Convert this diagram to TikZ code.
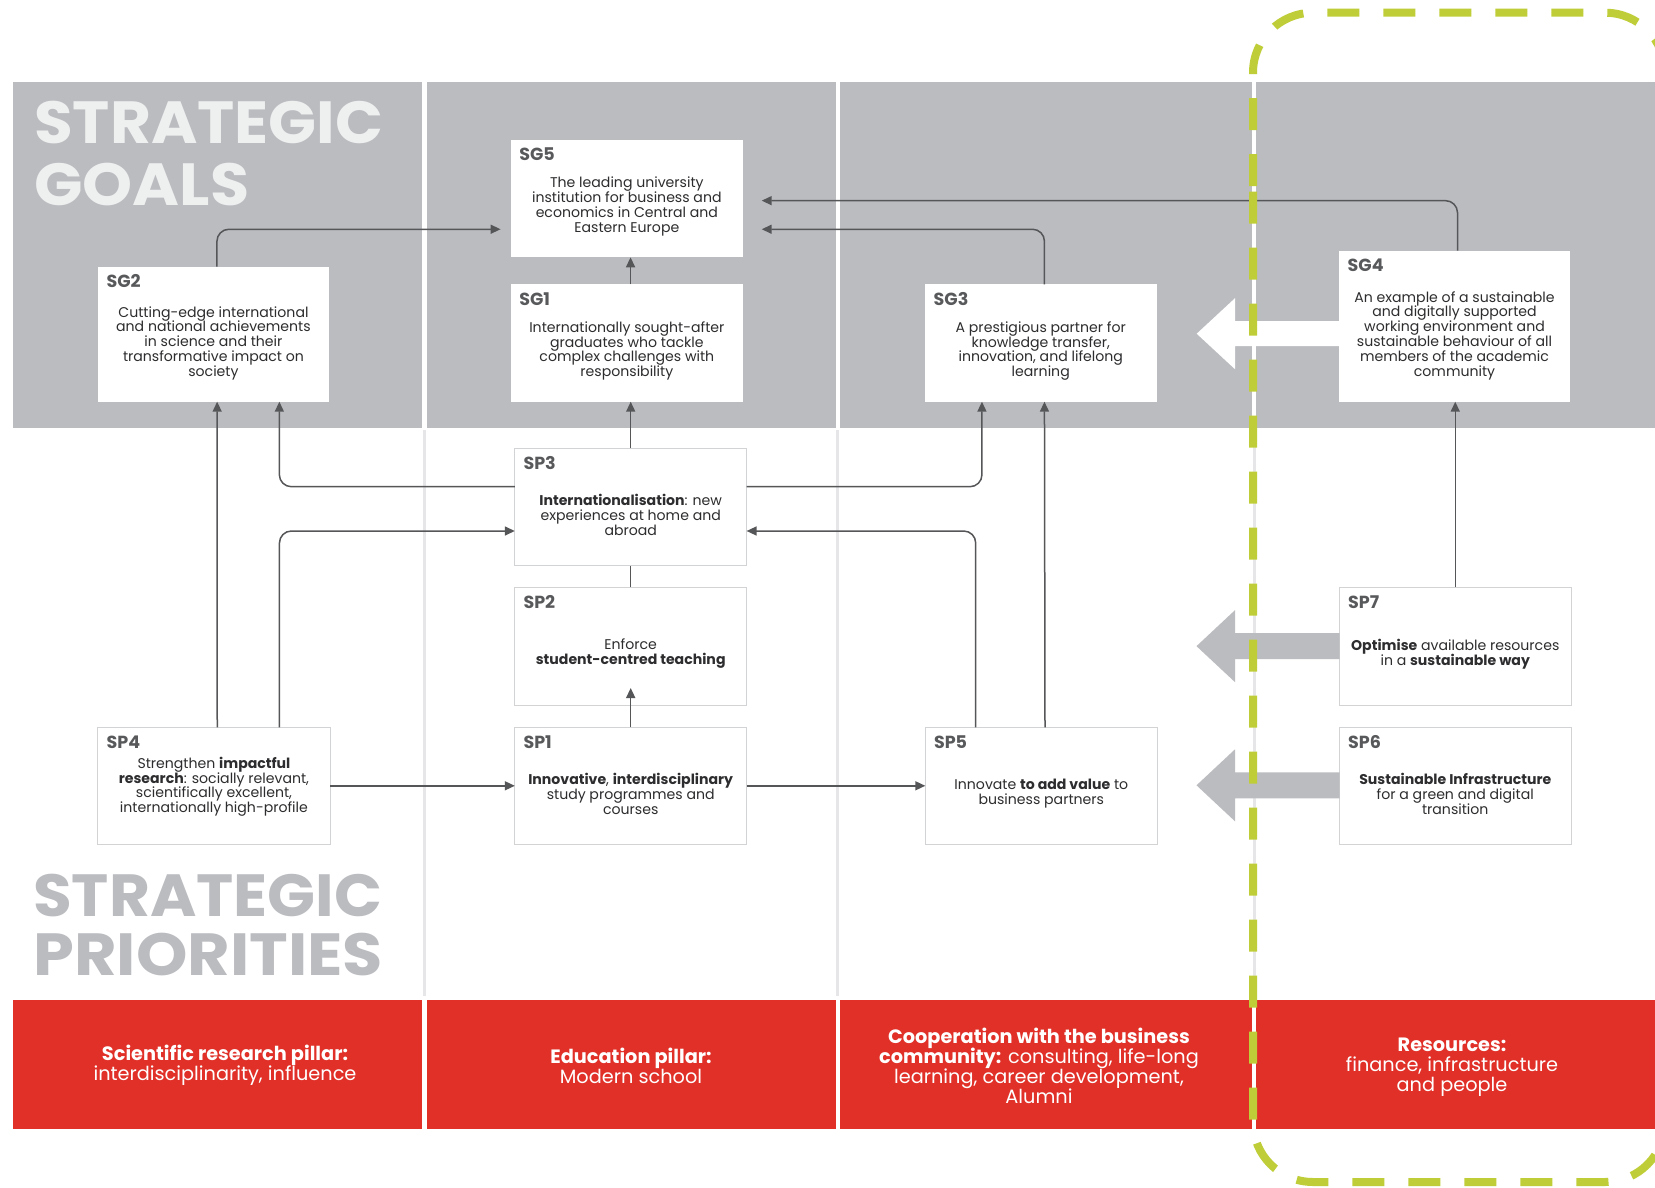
\documentclass[tikz,border=0pt]{standalone}
\usepackage{fontspec}
\usepackage{graphicx}
\setmainfont{Poppins}
\usetikzlibrary{arrows.meta,calc}
\setlength{\lineskiplimit}{-6pt}
\definecolor{bandgray}{RGB}{187,188,192}
\definecolor{headlight}{RGB}{238,239,239}
\definecolor{redband}{RGB}{224,48,40}
\definecolor{limeg}{RGB}{191,206,56}
\definecolor{linegray}{RGB}{85,86,88}
\definecolor{labelgray}{RGB}{88,89,91}
\definecolor{textdark}{RGB}{45,45,47}
\definecolor{sepgray}{RGB}{230,230,232}
\definecolor{boxborder}{RGB}{210,211,213}
\begin{document}
\begin{tikzpicture}[x=1pt,y=-1pt,
  conn/.style={draw=linegray, line width=1.5pt, -{Triangle[length=10pt,width=9pt]}},
  plainconn/.style={draw=linegray, line width=1.5pt},
  goalbox/.style={fill=white, inner sep=0pt, outer sep=0pt, anchor=north west, minimum width=232.5pt, minimum height=117.3pt},
  priobox/.style={goalbox, draw=boxborder, line width=1pt},
  lbl/.style={anchor=west, inner sep=0pt, text=labelgray, font=\bfseries\fontsize{17.5}{18}\selectfont},
  body/.style={align=center, inner sep=0pt, text=textdark, font=\fontsize{14.1}{14.8}\selectfont},
  redtext/.style={align=center, inner sep=0pt, text=white, font=\fontsize{19.3}{20}\selectfont},
  bigtitle/.style={anchor=base west, inner sep=0pt, font=\bfseries\fontsize{59.5}{60}\selectfont}
]
\useasboundingbox (0,0) rectangle (1655,1188);
\clip (0,0) rectangle (1655,1188);
\fill[white] (0,0) rectangle (1655,1188);

% grey band of goals
\fill[bandgray] (12.7,82) rectangle (421.7,427.5);
\fill[bandgray] (426.5,82) rectangle (835.5,427.5);
\fill[bandgray] (839.5,82) rectangle (1252,427.5);
\fill[bandgray] (1256,82) rectangle (1655,427.5);

% light column separators
\fill[sepgray] (422.5,430) rectangle (425.5,996);
\fill[sepgray] (836,430) rectangle (839,996);
\fill[sepgray] (1252.5,430) rectangle (1255.5,996);

% red band of pillars
\fill[redband] (12.7,1000) rectangle (421.7,1128.7);
\fill[redband] (426.5,1000) rectangle (835.5,1128.7);
\fill[redband] (839.5,1000) rectangle (1252,1128.7);
\fill[redband] (1256,1000) rectangle (1655,1128.7);

% titles
\node[bigtitle, text=headlight] (tg1) at (34,143.3) {\scalebox{1.058}[1]{STRATEGIC}};
\node[bigtitle, text=headlight] (tg2) at (34,205) {\scalebox{1.07}[1]{GOALS}};
\node[bigtitle, text=bandgray] (tp1) at (33,916) {\scalebox{1.058}[1]{STRATEGIC}};
\node[bigtitle, text=bandgray] (tp2) at (33,975) {\scalebox{1.1}[1]{PRIORITIES}};

% goal boxes
\node[goalbox] (SG5) at (510.6,140) {};
\node[goalbox, minimum height=117.4pt] (SG1) at (510.6,284.3) {};
\node[goalbox, minimum width=231.1pt, minimum height=135pt] (SG2) at (97.9,266.7) {};
\node[goalbox, minimum width=231.5pt, minimum height=117.4pt] (SG3) at (925,284.3) {};
\node[goalbox, minimum width=231pt, minimum height=151pt] (SG4) at (1339,250.7) {};

% priority boxes
\node[priobox, minimum width=231.8pt, minimum height=117.4pt] (SP3) at (514.8,448.3) {};
\node[priobox, minimum width=231.8pt, minimum height=117.7pt] (SP2) at (514.8,587.3) {};
\node[priobox, minimum width=232.1pt, minimum height=117pt] (SP4) at (97.9,727.3) {};
\node[priobox, minimum width=231.8pt, minimum height=117pt] (SP1) at (514.8,727.3) {};
\node[priobox, minimum width=232pt, minimum height=117pt] (SP5) at (925.3,727.3) {};
\node[priobox, minimum width=231.5pt, minimum height=117.7pt] (SP7) at (1339.5,587.3) {};
\node[priobox, minimum width=231.5pt, minimum height=117pt] (SP6) at (1339.5,727.3) {};

% labels
\foreach \b in {SG5,SG1,SG2,SG3,SG4,SP3,SP2,SP4,SP1,SP5,SP7,SP6}{
  \node[lbl] (\b l) at ($(\b.north west)+(8.5,14.5)$) {\b};
}

% body texts
\node[body] (SG5t) at ($(SG5.center)+(0,8)$) {The leading university\\institution for business and\\economics in Central and\\Eastern Europe};
\node[body] (SG2t) at ($(SG2.center)+(0,9)$) {Cutting-edge international\\and national achievements\\in science and their\\transformative impact on\\society};
\node[body] (SG1t) at ($(SG1.center)+(0,8)$) {Internationally sought-after\\graduates who tackle\\complex challenges with\\responsibility};
\node[body] (SG3t) at ($(SG3.center)+(0,8)$) {A prestigious partner for\\knowledge transfer,\\innovation, and lifelong\\learning};
\node[body] (SG4t) at ($(SG4.center)+(0,9.4)$) {An example of a sustainable\\and digitally supported\\working environment and\\sustainable behaviour of all\\members of the academic\\community};
\node[body] (SP3t) at ($(SP3.center)+(0,8)$) {\textbf{Internationalisation}: new\\experiences at home and\\abroad};
\node[body] (SP2t) at ($(SP2.center)+(0,7.5)$) {Enforce\\\textbf{student-centred teaching}};
\node[body] (SP4t) at ($(SP4.center)+(0,1)$) {Strengthen \textbf{impactful}\\\textbf{research}: socially relevant,\\scientifically excellent,\\internationally high-profile};
\node[body] (SP1t) at ($(SP1.center)+(0,8)$) {\textbf{Innovative}, \textbf{interdisciplinary}\\study programmes and\\courses};
\node[body] (SP5t) at ($(SP5.center)+(0,8)$) {Innovate \textbf{to add value} to\\business partners};
\node[body] (SP7t) at ($(SP7.center)+(0,8)$) {\textbf{Optimise} available resources\\in a \textbf{sustainable way}};
\node[body] (SP6t) at ($(SP6.center)+(0,8)$) {\textbf{Sustainable Infrastructure}\\for a green and digital\\transition};

% red pillar texts
\node[redtext] (R1) at (225,1065.5) {\textbf{Scientific research pillar:}\\interdisciplinarity, influence};
\node[redtext] (R2) at (631,1065.5) {\textbf{Education pillar:}\\Modern school};
\node[redtext] (R3) at (1039,1065.4) {\textbf{Cooperation with the business}\\\textbf{community:} consulting, life-long\\learning, career development,\\Alumni};
\node[redtext] (R4) at (1452,1067.5) {\textbf{Resources:}\\finance, infrastructure\\and people};

% connectors
\draw[conn, rounded corners=12pt] ($(SG2.north)+(3.5,0)$) |- ($(SG5.west)+(-10,30.6)$);
\draw[conn, rounded corners=12pt] ($(SG3.north)+(3.7,0)$) |- ($(SG5.east)+(18.6,30.6)$);
\draw[conn, rounded corners=12pt] ($(SG4.north)+(3,0)$) |- ($(SG5.east)+(18.6,2)$);
\draw[conn] ($(SG1.north)+(3.7,0)$) -- ($(SG5.south)+(3.7,0)$);
\draw[conn] (SP3.north) -- (SP3.north |- SG1.south);
\draw[conn, rounded corners=12pt] ($(SP3.west)+(0,-20.3)$) -| ($(SG2.south)+(65.9,0)$);
\draw[conn, rounded corners=12pt] ($(SP3.east)+(0,-20.3)$) -| ($(SG3.south)+(-58.8,0)$);
\draw[conn, rounded corners=12pt] ($(SP4.north)+(65.5,0)$) |- ($(SP3.west)+(0,24)$);
\draw[conn] ($(SP4.north)+(3.3,0)$) -- ($(SG2.south)+(3.7,0)$);
\draw[conn, rounded corners=12pt] ($(SP5.north)+(-65.6,0)$) |- ($(SP3.east)+(0,24)$);
\draw[conn] ($(SP5.north)+(3.7,0)$) -- ($(SG3.south)+(3.7,0)$);
\draw[plainconn] (SP2.north) -- (SP3.south);
\draw[conn] (SP1.north) -- ($(SP2.south)+(0,-17)$);
\draw[conn] (SP4.east) -- (SP1.west);
\draw[conn] (SP1.east) -- (SP5.west);
\draw[conn] (SP7.north) -- (SP7.north |- SG4.south);

% block arrows
\begin{scope}[shift={($(SG4.west)+(0,7.5)$)}]
  \fill[white] (0.5,-12.5) -- (-104,-12.5) -- (-104,-35.5) -- (-142.3,0) -- (-104,35.5) -- (-104,12.5) -- (0.5,12.5) -- cycle;
\end{scope}
\begin{scope}[shift={(SP7.west)}]
  \fill[bandgray] (0,-13) -- (-104.5,-13) -- (-104.5,-36) -- (-143,0) -- (-104.5,36) -- (-104.5,13) -- (0,13) -- cycle;
\end{scope}
\begin{scope}[shift={($(SP6.west)+(0,-0.5)$)}]
  \fill[bandgray] (0,-13) -- (-104.5,-13) -- (-104.5,-36) -- (-143,0) -- (-104.5,36) -- (-104.5,13) -- (0,13) -- cycle;
\end{scope}

% dashed green frame
\draw[limeg, line width=8pt, dash pattern=on 32pt off 24pt, rounded corners=60pt]
  (1253,131.7) -- (1253,1182) -- (1665,1182) -- (1665,12.7) -- (1253,12.7) -- cycle;
\end{tikzpicture}
\end{document}
